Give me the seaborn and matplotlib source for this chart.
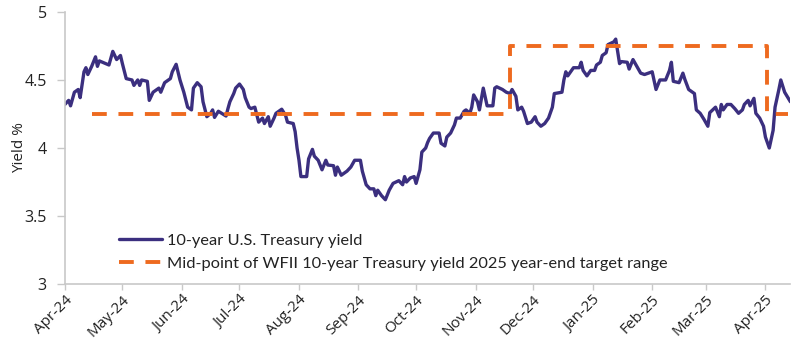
import pandas as pd
import matplotlib
matplotlib.use("Agg")
import matplotlib.pyplot as plt
import matplotlib.dates as mdates
from matplotlib.ticker import FuncFormatter
import seaborn as sns

# 10-year U.S. Treasury yield
yield_dates = [
    "2024-04-01", "2024-04-03", "2024-04-04", "2024-04-06", "2024-04-08", "2024-04-09",
    "2024-04-11", "2024-04-12", "2024-04-13", "2024-04-15", "2024-04-17", "2024-04-18",
    "2024-04-19", "2024-04-24", "2024-04-26", "2024-04-28", "2024-04-30", "2024-05-01",
    "2024-05-03", "2024-05-06", "2024-05-07", "2024-05-09", "2024-05-10", "2024-05-11",
    "2024-05-14", "2024-05-15", "2024-05-17", "2024-05-20", "2024-05-21", "2024-05-23",
    "2024-05-26", "2024-05-27", "2024-05-29", "2024-05-31", "2024-06-02", "2024-06-04",
    "2024-06-06", "2024-06-07", "2024-06-09", "2024-06-11", "2024-06-12", "2024-06-14",
    "2024-06-16", "2024-06-17", "2024-06-18", "2024-06-20", "2024-06-24", "2024-06-25",
    "2024-06-26", "2024-06-28", "2024-06-29", "2024-07-01", "2024-07-03", "2024-07-04",
    "2024-07-06", "2024-07-07", "2024-07-09", "2024-07-11", "2024-07-13", "2024-07-14",
    "2024-07-16", "2024-07-17", "2024-07-19", "2024-07-20", "2024-07-23", "2024-07-25",
    "2024-07-26", "2024-07-29", "2024-07-30", "2024-07-31", "2024-08-01", "2024-08-02",
    "2024-08-05", "2024-08-06", "2024-08-08", "2024-08-09", "2024-08-11", "2024-08-13",
    "2024-08-15", "2024-08-16", "2024-08-19", "2024-08-20", "2024-08-21", "2024-08-23",
    "2024-08-26", "2024-08-28", "2024-08-30", "2024-09-02", "2024-09-03", "2024-09-05",
    "2024-09-07", "2024-09-09", "2024-09-10", "2024-09-11", "2024-09-13", "2024-09-15",
    "2024-09-17", "2024-09-19", "2024-09-22", "2024-09-24", "2024-09-25", "2024-09-26",
    "2024-09-28", "2024-09-30", "2024-10-01", "2024-10-03", "2024-10-04", "2024-10-06",
    "2024-10-07", "2024-10-08", "2024-10-10", "2024-10-13", "2024-10-14", "2024-10-16",
    "2024-10-17", "2024-10-19", "2024-10-21", "2024-10-22", "2024-10-24", "2024-10-26",
    "2024-10-27", "2024-10-29", "2024-10-30", "2024-10-31", "2024-11-02", "2024-11-03",
    "2024-11-05", "2024-11-07", "2024-11-10", "2024-11-11", "2024-11-12", "2024-11-15",
    "2024-11-17", "2024-11-19", "2024-11-20", "2024-11-22", "2024-11-23", "2024-11-25",
    "2024-11-26", "2024-11-28", "2024-11-30", "2024-12-02", "2024-12-03", "2024-12-05",
    "2024-12-07", "2024-12-09", "2024-12-11", "2024-12-12", "2024-12-16", "2024-12-17",
    "2024-12-18", "2024-12-19", "2024-12-22", "2024-12-25", "2024-12-26", "2024-12-27",
    "2024-12-29", "2024-12-31", "2025-01-02", "2025-01-03", "2025-01-05", "2025-01-06",
    "2025-01-08", "2025-01-09", "2025-01-12", "2025-01-13", "2025-01-15", "2025-01-16",
    "2025-01-19", "2025-01-20", "2025-01-22", "2025-01-24", "2025-01-26", "2025-01-28",
    "2025-01-30", "2025-02-01", "2025-02-03", "2025-02-05", "2025-02-08", "2025-02-10",
    "2025-02-11", "2025-02-12", "2025-02-15", "2025-02-17", "2025-02-18", "2025-02-20",
    "2025-02-23", "2025-02-24", "2025-02-26", "2025-02-28", "2025-03-02", "2025-03-03",
    "2025-03-06", "2025-03-08", "2025-03-09", "2025-03-10", "2025-03-12", "2025-03-14",
    "2025-03-16", "2025-03-18", "2025-03-20", "2025-03-21", "2025-03-23", "2025-03-24",
    "2025-03-26", "2025-03-27", "2025-03-29", "2025-03-31", "2025-04-01", "2025-04-03",
    "2025-04-05", "2025-04-06", "2025-04-08", "2025-04-09", "2025-04-11", "2025-04-14",
]
yield_values = [
    4.32, 4.35, 4.31, 4.41, 4.43, 4.37,
    4.56, 4.59, 4.54, 4.60, 4.67, 4.60,
    4.64, 4.61, 4.71, 4.65, 4.68, 4.62,
    4.51, 4.50, 4.46, 4.50, 4.46, 4.50,
    4.49, 4.35, 4.41, 4.44, 4.41, 4.48,
    4.51, 4.56, 4.615, 4.50, 4.41, 4.30,
    4.28, 4.44, 4.48, 4.45, 4.34, 4.23,
    4.255, 4.28, 4.225, 4.27, 4.235, 4.29,
    4.34, 4.40, 4.44, 4.47, 4.43, 4.37,
    4.30, 4.29, 4.30, 4.19, 4.22, 4.18,
    4.23, 4.16, 4.22, 4.255, 4.285, 4.24,
    4.19, 4.18, 4.12, 4.00, 3.91, 3.79,
    3.79, 3.92, 3.99, 3.94, 3.91, 3.84,
    3.91, 3.875, 3.87, 3.80, 3.86, 3.80,
    3.83, 3.86, 3.91, 3.91, 3.83, 3.73,
    3.70, 3.70, 3.65, 3.69, 3.65, 3.62,
    3.69, 3.74, 3.76, 3.73, 3.79, 3.75,
    3.78, 3.79, 3.74, 3.84, 3.97, 4.00,
    4.04, 4.07, 4.11, 4.11, 4.035, 4.015,
    4.08, 4.11, 4.17, 4.22, 4.22, 4.27,
    4.28, 4.255, 4.30, 4.39, 4.34, 4.28,
    4.44, 4.31, 4.31, 4.44, 4.45, 4.43,
    4.41, 4.40, 4.43, 4.38, 4.28, 4.30,
    4.27, 4.18, 4.19, 4.23, 4.19, 4.16,
    4.18, 4.22, 4.30, 4.40, 4.41, 4.50,
    4.56, 4.53, 4.59, 4.59, 4.63, 4.57,
    4.53, 4.57, 4.57, 4.61, 4.63, 4.68,
    4.70, 4.76, 4.78, 4.80, 4.62, 4.635,
    4.63, 4.58, 4.65, 4.60, 4.55, 4.54,
    4.55, 4.56, 4.43, 4.50, 4.50, 4.57,
    4.63, 4.49, 4.48, 4.55, 4.505, 4.43,
    4.40, 4.28, 4.255, 4.21, 4.16, 4.26,
    4.30, 4.23, 4.32, 4.28, 4.32, 4.32,
    4.29, 4.255, 4.28, 4.32, 4.35, 4.31,
    4.365, 4.255, 4.22, 4.16, 4.08, 4.00,
    4.13, 4.30, 4.43, 4.50, 4.41, 4.34,
]

# WFII target range mid-point (step changes)
target_dates = ["2024-04-15", "2024-11-19", "2025-04-02", "2025-04-13"]
target_values = [4.25, 4.75, 4.25, 4.25]

y_ticks = [3, 3.5, 4, 4.5, 5]

BLUE = "#3b2f7f"
ORANGE = "#ee6a1f"


def build_frames():
    """Put the series into data frames."""
    yld = pd.DataFrame({"date": pd.to_datetime(yield_dates), "value": yield_values})
    tgt = pd.DataFrame({"date": pd.to_datetime(target_dates), "value": target_values})
    return yld, tgt


def main():
    sns.set_theme(style="white")
    plt.rcParams["font.family"] = ["Open Sans", "DejaVu Sans"]

    yld, tgt = build_frames()

    fig, ax = plt.subplots(figsize=(8, 3.61), dpi=100)
    fig.subplots_adjust(left=0.081, right=0.988, top=0.967, bottom=0.213)

    sns.lineplot(data=yld, x="date", y="value", ax=ax, color=BLUE, linewidth=2.4,
                 label="10-year U.S. Treasury yield")
    sns.lineplot(data=tgt, x="date", y="value", ax=ax, color=ORANGE, linewidth=2.8,
                 drawstyle="steps-post", linestyle=(0, (3.8, 3.0)),
                 label="Mid-point of WFII 10-year Treasury yield 2025 year-end target range")

    ax.set_xlim(pd.Timestamp("2024-04-01"), pd.Timestamp("2025-04-14"))
    ax.set_ylim(3, 5)
    ax.set_yticks(y_ticks)
    ax.yaxis.set_major_formatter(FuncFormatter(lambda v, p: f"{v:g}"))
    ax.xaxis.set_major_locator(mdates.MonthLocator())
    ax.xaxis.set_major_formatter(mdates.DateFormatter("%b-%y"))

    ax.set_xlabel("")
    ax.set_ylabel("Yield %", fontsize=11, color="#222222")
    ax.yaxis.set_label_coords(-0.052, 0.5)

    for side in ["top", "right"]:
        ax.spines[side].set_visible(False)
    for side in ["left", "bottom"]:
        ax.spines[side].set_color("#c8c8c8")
        ax.spines[side].set_linewidth(1.2)

    ax.tick_params(axis="y", left=True, length=6, width=1, color="#c8c8c8",
                   labelsize=11.5, labelcolor="#222222", pad=7)
    ax.tick_params(axis="x", bottom=True, length=4, width=1, color="#c8c8c8",
                   labelsize=11, labelcolor="#222222", pad=2)
    plt.setp(ax.get_xticklabels(), rotation=45, ha="right", rotation_mode="anchor")

    leg = ax.legend(loc="lower left", bbox_to_anchor=(0.055, -0.005), frameon=False,
                    handlelength=2.6, handletextpad=0.3, labelspacing=0.5,
                    prop={"family": ["Lato", "DejaVu Sans"], "size": 11.8})
    for txt in leg.get_texts():
        txt.set_color("#222222")

    fig.savefig("out.png", dpi=100)
    plt.close(fig)


if __name__ == "__main__":
    main()
